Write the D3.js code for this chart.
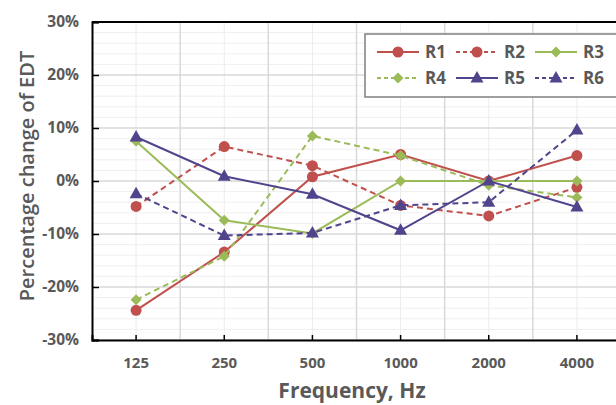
<!DOCTYPE html>
<html>
<head>
<meta charset="utf-8">
<script src="https://cdn.jsdelivr.net/npm/d3@7"></script>
<style>
  body { margin: 0; background: #fff; }
  svg text { font-family: "Open Sans", "Liberation Sans", sans-serif; fill: #595959; }
</style>
</head>
<body>
<div id="chart"></div>
<script>
// Дані графіка
const frequencies = ['125', '250', '500', '1000', '2000', '4000'];
const seriesNames = ['R1', 'R2', 'R3', 'R4', 'R5', 'R6'];
const r1 = [-24.4, -13.4, 0.8, 5.0, 0.0, 4.8];
const r2 = [-4.8, 6.5, 2.9, -4.6, -6.6, -1.2];
const r3 = [7.5, -7.4, -9.9, 0.0, 0.0, 0.0];
const r4 = [-22.4, -14.2, 8.5, 4.8, -0.8, -3.1];
const r5 = [8.3, 0.9, -2.5, -9.3, 0.0, -4.9];
const r6 = [-2.4, -10.3, -9.8, -4.6, -4.0, 9.6];
const yTicks = [-30, -20, -10, 0, 10, 20, 30];

const WIDTH = 616;
const HEIGHT = 405;
const LEFT = 92, TOP = 22, BOTTOM = 340, RIGHT = 621;

const RED = '#c0504d', GREEN = '#9bbb59', PURPLE = '#51448c';

const series = [
  { name: seriesNames[0], values: r1, color: RED, dash: null, marker: 'circle' },
  { name: seriesNames[1], values: r2, color: RED, dash: '6,4', marker: 'circle' },
  { name: seriesNames[2], values: r3, color: GREEN, dash: null, marker: 'diamond' },
  { name: seriesNames[3], values: r4, color: GREEN, dash: '6,4', marker: 'diamond' },
  { name: seriesNames[4], values: r5, color: PURPLE, dash: null, marker: 'triangle' },
  { name: seriesNames[5], values: r6, color: PURPLE, dash: '6,4', marker: 'triangle' }
];

const svg = d3.select('#chart')
  .append('svg')
  .attr('width', WIDTH)
  .attr('height', HEIGHT);

const x = d3.scaleBand().domain(frequencies).range([LEFT, RIGHT]);
const y = d3.scaleLinear().domain([-30, 30]).range([BOTTOM, TOP]);
const cx = d => x(d) + x.bandwidth() / 2;

// Сітка: дрібні горизонтальні лінії
svg.append('g').selectAll('line')
  .data(d3.range(-30, 31, 2).filter(v => v % 10 !== 0))
  .join('line')
  .attr('x1', LEFT).attr('x2', WIDTH)
  .attr('y1', d => y(d)).attr('y2', d => y(d))
  .attr('stroke', '#efefef').attr('stroke-width', 1);

// Сітка: дрібні вертикальні лінії в центрах категорій
svg.append('g').selectAll('line')
  .data(frequencies)
  .join('line')
  .attr('x1', d => cx(d)).attr('x2', d => cx(d))
  .attr('y1', TOP).attr('y2', BOTTOM)
  .attr('stroke', '#ececec').attr('stroke-width', 1);

// Сітка: основні горизонтальні лінії
svg.append('g').selectAll('line')
  .data(yTicks)
  .join('line')
  .attr('x1', LEFT).attr('x2', WIDTH)
  .attr('y1', d => y(d)).attr('y2', d => y(d))
  .attr('stroke', '#d9d9d9').attr('stroke-width', 1.5);

// Сітка: основні вертикальні лінії на межах категорій
svg.append('g').selectAll('line')
  .data(frequencies.slice(1))
  .join('line')
  .attr('x1', d => x(d)).attr('x2', d => x(d))
  .attr('y1', TOP).attr('y2', BOTTOM)
  .attr('stroke', '#d9d9d9').attr('stroke-width', 1.5);

// Верхня рамка
svg.append('line')
  .attr('x1', LEFT).attr('x2', WIDTH)
  .attr('y1', TOP).attr('y2', TOP)
  .attr('stroke', '#000').attr('stroke-width', 2);

// Осі
const yAxis = d3.axisLeft(y)
  .tickValues(yTicks)
  .tickSize(-7)
  .tickPadding(13)
  .tickFormat(d => d + '%');

const yG = svg.append('g')
  .attr('transform', `translate(${LEFT},0)`)
  .call(yAxis);
yG.select('.domain').attr('stroke', '#000').attr('stroke-width', 2);
yG.selectAll('.tick line').attr('stroke', '#000').attr('stroke-width', 1.5);
yG.selectAll('.tick text')
  .style('font-size', '15.5px').style('font-weight', 'bold');

const xAxis = d3.axisBottom(x)
  .tickSize(-5)
  .tickPadding(17);

const xG = svg.append('g')
  .attr('transform', `translate(0,${BOTTOM})`)
  .call(xAxis);
xG.select('.domain').attr('stroke', '#000').attr('stroke-width', 2);
xG.selectAll('.tick line').attr('stroke', '#000').attr('stroke-width', 1.5);
xG.selectAll('.tick text')
  .style('font-size', '15px').style('font-weight', 'bold');

// Підписи осей
svg.append('text')
  .attr('x', 352).attr('y', 398)
  .attr('text-anchor', 'middle')
  .style('font-size', '21px').style('font-weight', 'bold')
  .text('Frequency, Hz');

svg.append('text')
  .attr('transform', 'translate(34,176) rotate(-90)')
  .attr('text-anchor', 'middle')
  .style('font-size', '20px').style('font-weight', '600')
  .text('Percentage change of EDT');

// Функція для малювання маркера
function drawMarker(sel, type, color) {
  if (type === 'circle') {
    sel.append('circle').attr('r', 5.5).attr('fill', color);
  } else if (type === 'diamond') {
    sel.append('path').attr('d', 'M0,-5.5L5.5,0L0,5.5L-5.5,0Z').attr('fill', color);
  } else {
    sel.append('path').attr('d', 'M0,-7L6.5,4.5L-6.5,4.5Z').attr('fill', color);
  }
}

// Лінії та маркери
const line = d3.line()
  .x((d, i) => cx(frequencies[i]))
  .y(d => y(d));

series.forEach(s => {
  const g = svg.append('g');
  g.append('path')
    .datum(s.values)
    .attr('fill', 'none')
    .attr('stroke', s.color)
    .attr('stroke-width', 2)
    .attr('stroke-dasharray', s.dash)
    .attr('d', line);
  s.values.forEach((v, i) => {
    const m = g.append('g')
      .attr('transform', `translate(${cx(frequencies[i])},${y(v)})`);
    drawMarker(m, s.marker, s.color);
  });
});

// Легенда
const legend = svg.append('g');
legend.append('rect')
  .attr('x', 365).attr('y', 34)
  .attr('width', 270).attr('height', 63)
  .attr('fill', '#fff')
  .attr('stroke', '#7f7f7f').attr('stroke-width', 1.5);

series.forEach((s, i) => {
  const col = i % 3, row = Math.floor(i / 3);
  const lx = 377 + col * 79;
  const ly = 52 + row * 26;
  const item = legend.append('g').attr('transform', `translate(${lx},${ly})`);
  item.append('line')
    .attr('x1', 0).attr('x2', 42)
    .attr('stroke', s.color).attr('stroke-width', 2)
    .attr('stroke-dasharray', s.dash ? '4,3' : null);
  const m = item.append('g').attr('transform', 'translate(21,0)');
  drawMarker(m, s.marker, s.color);
  item.append('text')
    .attr('x', 48).attr('y', 0).attr('dy', '0.35em')
    .style('font-size', '17px').style('font-weight', 'bold')
    .text(s.name);
});
</script>
</body>
</html>
